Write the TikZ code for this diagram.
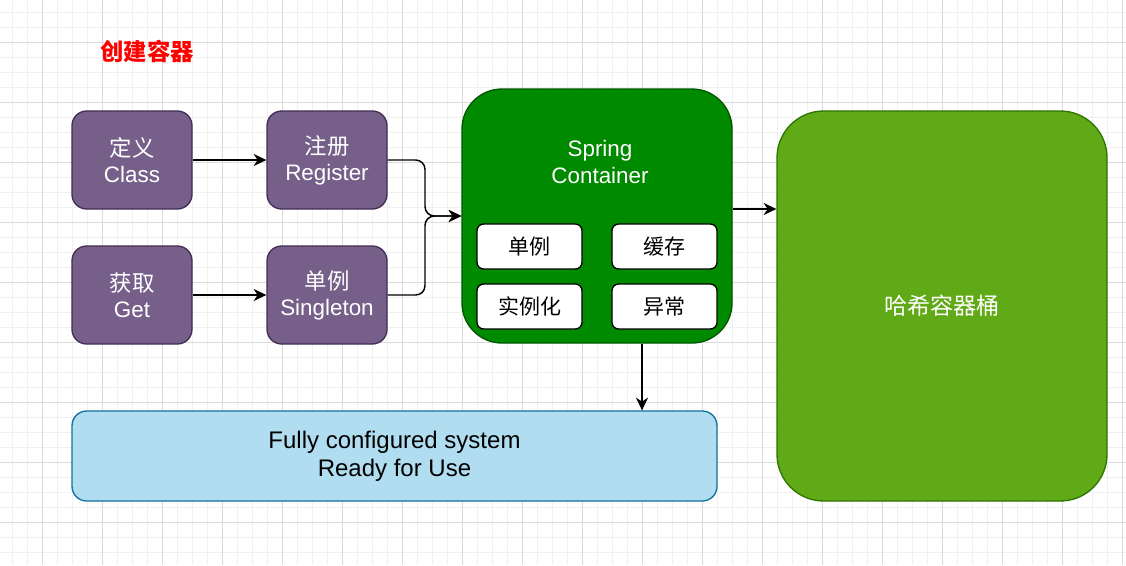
\documentclass[tikz,border=0pt]{standalone}
\usepackage{fontspec}
\setmainfont{Liberation Sans}
\newfontfamily\cjk{Noto Sans CJK SC}
\usetikzlibrary{arrows.meta}
\definecolor{pfill}{HTML}{76608A}
\definecolor{pline}{HTML}{432D57}
\definecolor{gfill}{HTML}{008A00}
\definecolor{gline}{HTML}{005700}
\definecolor{lgfill}{HTML}{60A917}
\definecolor{lgline}{HTML}{2D7600}
\definecolor{bfill}{HTML}{B1DDF0}
\definecolor{bline}{HTML}{10739E}
\definecolor{gridfine}{HTML}{F0F0F0}
\definecolor{gridmajor}{HTML}{DADADA}
\begin{document}
\begin{tikzpicture}[x=0.75pt,y=-0.75pt,
  pbox/.style={draw=pline, fill=pfill, line width=1pt, rounded corners=11pt,
    minimum width=90pt, minimum height=73.5pt, text=white, align=center,
    font=\fontsize{16.8}{19.5}\selectfont},
  contbox/.style={draw=gline, fill=gfill, line width=1pt, rounded corners=30pt,
    minimum width=202.5pt, minimum height=190.5pt},
  ibox/.style={draw=black, fill=white, line width=1pt, rounded corners=5pt,
    minimum width=78.75pt, minimum height=33.75pt,
    font=\cjk\fontsize{15.75}{18}\selectfont},
  hashbox/.style={draw=lgline, fill=lgfill, line width=1pt, rounded corners=35pt,
    minimum width=247.5pt, minimum height=292.5pt, text=white,
    font=\cjk\fontsize{17.3}{20}\selectfont},
  fullbox/.style={draw=bline, fill=bfill, line width=1pt, rounded corners=11pt,
    minimum width=483.75pt, minimum height=67.5pt, align=center,
    font=\fontsize{18}{21}\selectfont},
  arr/.style={draw=black, line width=1.1pt, -{Stealth[length=9.5pt,width=9pt,inset=3pt]}},
  titlestyle/.style={text=red, font=\cjk\bfseries\fontsize{17.5}{20}\selectfont},
  fine/.style={draw=gridfine, line width=0.6pt},
  major/.style={draw=gridmajor, line width=0.75pt}
]
\fill[white] (0,0) rectangle (1126,565);
\useasboundingbox (0,0) rectangle (1126,565);
\foreach \x in {12,27,...,1122} \draw[fine] (\x,0) -- (\x,565);
\foreach \y in {12,27,...,560} \draw[fine] (0,\y) -- (1126,\y);
\foreach \x in {42,102,...,1122} \draw[major] (\x,0) -- (\x,565);
\foreach \y in {42,102,...,560} \draw[major] (0,\y) -- (1126,\y);

\node[titlestyle] (title) at (147,51) {创建容器};

\node[pbox] (cls) at (132,160) {{\cjk 定义}\\Class};
\node[pbox] (reg) at (327,160) {{\cjk 注册}\\Register};
\node[pbox] (get) at (132,295) {{\cjk 获取}\\Get};
\node[pbox] (sgl) at (327,295) {{\cjk 单例}\\Singleton};

\node[contbox] (cont) at (597,216) {};
\node[text=white, align=center, font=\fontsize{16.8}{20}\selectfont] (contlabel) at (600,162) {Spring\\Container};
\node[ibox] (i1) at (529.5,246.5) {单例};
\node[ibox] (i2) at (664.5,246.5) {缓存};
\node[ibox] (i3) at (529.5,306.5) {实例化};
\node[ibox] (i4) at (664.5,306.5) {异常};

\node[hashbox] (hash) at (942,306) {哈希容器桶};
\node[fullbox] (fully) at (394.5,456) {\raisebox{-1.5pt}{\parbox{300pt}{\centering Fully configured system\\Ready for Use}}};

\coordinate (mx) at (425,216);
\draw[arr] (cls) -- (reg);
\draw[arr] (get) -- (sgl);
\draw[arr, rounded corners=7pt] (reg.east) -| (mx) -- (cont.west);
\draw[arr, rounded corners=7pt] (sgl.east) -| (mx) -- (cont.west);
\draw[arr] ([yshift=5.25pt]cont.east) -- ([yshift=5.25pt]cont.east -| hash.west);
\draw[arr] ([xshift=33.75pt]cont.south) -- ([xshift=33.75pt]cont.south |- fully.north);
\end{tikzpicture}
\end{document}
